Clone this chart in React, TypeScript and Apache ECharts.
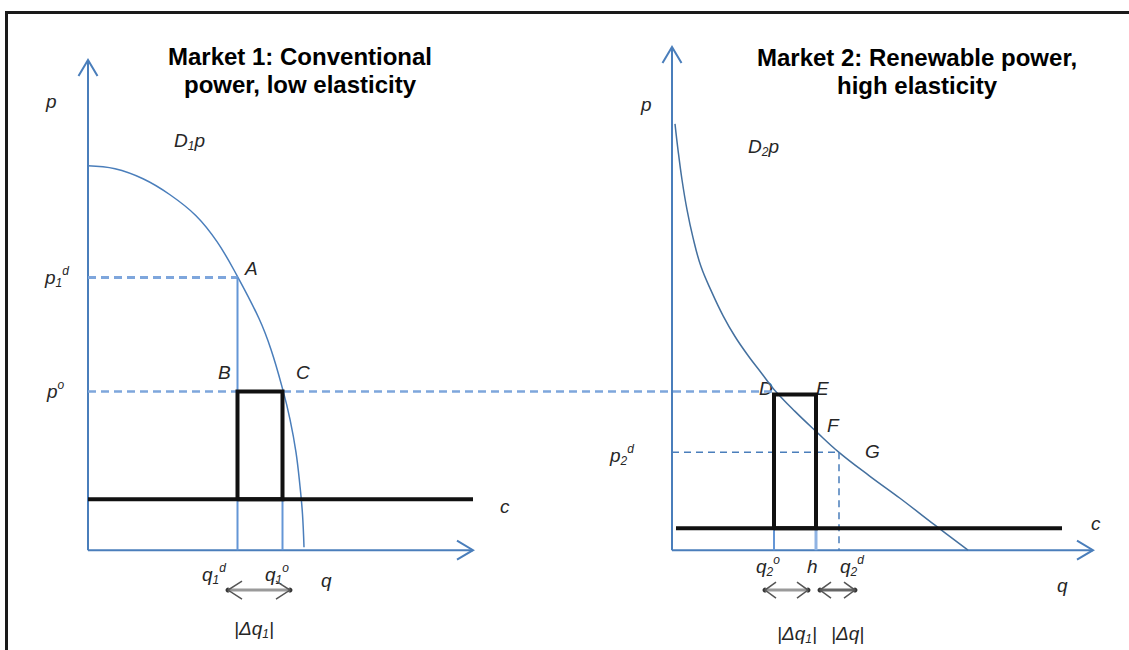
import React, { useEffect, useRef } from "react";
import * as echarts from "echarts";

// ---------- data (market units: q along the quantity axis, p along the price axis) ----------
// Market 1: conventional power, low elasticity
const m1Demand: number[][] = [
  [0, 385], [27, 382], [55, 372], [82, 356], [108, 335], [129, 309], [149, 275],
  [171, 232], [183, 201], [195, 160], [202, 131], [208, 98], [212, 64], [214.5, 36], [216, 3],
];
const m1P1d = 273;      // p1^d level (point A)
const m1Q1d = 149.5;    // q1^d
const m1Q1o = 194.5;    // q1^o
const pO = 159;         // common price p^o
const m1C = 51;         // marginal cost c
const m1QAxis = 385;    // length of the q axis
const m1PAxis = 491;    // length of the p axis
const m1PoEnd = 686;    // dashed p^o line runs on to point D in market 2
const m1DeltaArrow = [140, 202];

// Market 2: renewable power, high elasticity
const m2Demand: number[][] = [
  [3, 427], [6, 401], [10, 371], [15, 341], [21, 313], [29, 284], [40, 258], [51, 235],
  [63, 214], [76, 195], [89, 178], [102, 161], [123, 139], [144, 119], [167, 98],
  [198, 74], [228, 52], [263, 25], [296, 0],
];
const m2Q2o = 102;      // q2^o (point D)
const m2H = 144;        // h (point E / F)
const m2Q2d = 167;      // q2^d (point G)
const m2P2d = 98;       // p2^d
const m2RectTop = 156;
const m2C = 22;
const m2CRange = [4, 390];
const m2QAxis = 421;
const m2PAxis = 504;
const m2DeltaArrows = [[93, 136], [148, 183]];
const arrowLevel = -40;

// ---------- styles ----------
const BLUE = "#4a7ebb";
const LIGHT = "#7ea6dc";
const MIDB = "#6496d6";
const BLACK = "#111111";
const FAM = '"Liberation Sans", Arial, sans-serif';
const TXT = "#262626";

const seg = (
  data: number[][],
  g: number,
  color: string,
  width: number,
  type: any = "solid",
  extra: any = {}
) => ({
  type: "line",
  xAxisIndex: g,
  yAxisIndex: g,
  data,
  symbol: "none",
  showSymbol: false,
  clip: false,
  silent: true,
  lineStyle: { color, width, type, cap: "butt", join: "miter" },
  ...extra,
});

const rich = {
  m: { font: `italic 19px ${FAM}`, fontSize: 19, fontStyle: "italic", fontFamily: FAM, fill: TXT, color: TXT, lineHeight: 24 },
  b: { font: `italic 12px ${FAM}`, fontSize: 12, fontStyle: "italic", fontFamily: FAM, fill: TXT, color: TXT, lineHeight: 13, verticalAlign: "bottom" },
  t: { font: `italic 12px ${FAM}`, fontSize: 12, fontStyle: "italic", fontFamily: FAM, fill: TXT, color: TXT, lineHeight: 13, verticalAlign: "top" },
};

const label = (x: number, y: number, text: string) => ({
  type: "text",
  x,
  y,
  silent: true,
  style: {
    text,
    rich,
    fill: TXT,
    font: `italic 19px ${FAM}`,
    align: "left",
    textAlign: "left",
    verticalAlign: "middle",
    textVerticalAlign: "middle",
  },
});

const title = (x: number, y: number, text: string) => ({
  type: "text",
  x,
  y,
  silent: true,
  style: {
    text,
    fill: "#000",
    font: `bold 24px ${FAM}`,
    lineHeight: 28,
    align: "center",
    textAlign: "center",
    verticalAlign: "middle",
    textVerticalAlign: "middle",
  },
});

const hiddenAxis = (g: number, min: number, max: number) => ({
  type: "value",
  gridIndex: g,
  min,
  max,
  axisLine: { show: false },
  axisTick: { show: false },
  axisLabel: { show: false },
  splitLine: { show: false },
});

const doubleArrow = (g: number, a: number, b: number, back: number, half: number, shaft: string) => [
  seg([[a, arrowLevel], [b, arrowLevel]], g, shaft, 3),
  seg([[a + back, arrowLevel + half], [a, arrowLevel], [a + back, arrowLevel - half]], g, "#555", 1.5),
  seg([[b - back, arrowLevel + half], [b, arrowLevel], [b - back, arrowLevel - half]], g, "#555", 1.5),
  {
    type: "scatter",
    xAxisIndex: g,
    yAxisIndex: g,
    silent: true,
    symbolSize: 5,
    itemStyle: { color: "#000" },
    data: [[a, arrowLevel], [b, arrowLevel]],
  },
];

const axes = (g: number, qLen: number, pLen: number, back: number) => [
  seg([[0, 0], [0, pLen]], g, BLUE, 2),
  seg([[0, 0], [qLen, 0]], g, BLUE, 2),
  seg([[-9.5, pLen - back], [0, pLen], [9.5, pLen - back]], g, BLUE, 2),
  seg([[qLen - back, 9.5], [qLen, 0], [qLen - back, -9.5]], g, BLUE, 2),
];

// each grid spans one pixel per market unit; the origin sits at q=0, p=0
const option: any = {
  animation: false,
  backgroundColor: "#ffffff",
  grid: [
    { left: 28, top: 40, width: 760, height: 611 },
    { left: 612, top: 31, width: 500, height: 620 },
  ],
  xAxis: [hiddenAxis(0, -60, 700), hiddenAxis(1, -60, 440)],
  yAxis: [hiddenAxis(0, -100, 511), hiddenAxis(1, -100, 520)],
  series: [
    // ---- Market 1 ----
    ...axes(0, m1QAxis, m1PAxis, 16),
    seg(m1Demand, 0, BLUE, 1.5, "solid", { smooth: 0.4 }),
    seg([[0, m1P1d], [m1Q1d, m1P1d]], 0, LIGHT, 3, [8, 5]),
    seg([[0, pO], [m1PoEnd, pO]], 0, LIGHT, 2.5, [8, 5]),
    seg([[m1Q1d, m1P1d], [m1Q1d, 0]], 0, MIDB, 2),
    seg([[m1Q1o, pO], [m1Q1o, 0]], 0, MIDB, 2),
    seg([[0, m1C], [m1QAxis, m1C]], 0, BLACK, 4, "solid", { z: 5 }),
    seg([[m1Q1d, m1C], [m1Q1d, pO], [m1Q1o, pO], [m1Q1o, m1C], [m1Q1d, m1C]], 0, BLACK, 4, "solid", { z: 6 }),
    ...doubleArrow(0, m1DeltaArrow[0], m1DeltaArrow[1], 14, 9, "#9a9a9a"),
    // ---- Market 2 ----
    ...axes(1, m2QAxis, m2PAxis, 16),
    seg(m2Demand, 1, "#44709f", 1.5, "solid", { smooth: 0.4 }),
    seg([[0, m2P2d], [m2Q2d, m2P2d]], 1, BLUE, 1.5, [7, 5]),
    seg([[m2Q2d, m2P2d], [m2Q2d, 0]], 1, BLUE, 1.5, [7, 5]),
    seg([[m2Q2o, m2C], [m2Q2o, 0]], 1, MIDB, 2),
    seg([[m2H, m2C], [m2H, 0]], 1, "#8fb3e3", 3),
    seg([[m2CRange[0], m2C], [m2CRange[1], m2C]], 1, BLACK, 4, "solid", { z: 5 }),
    seg([[m2Q2o, m2C], [m2Q2o, m2RectTop], [m2H, m2RectTop], [m2H, m2C], [m2Q2o, m2C]], 1, BLACK, 4, "solid", { z: 6 }),
    ...doubleArrow(1, m2DeltaArrows[0][0], m2DeltaArrows[0][1], 11, 8, "#9a9a9a"),
    ...doubleArrow(1, m2DeltaArrows[1][0], m2DeltaArrows[1][1], 11, 8, "#666"),
  ],
  graphic: [
    {
      type: "polyline",
      silent: true,
      shape: { points: [[6.5, 650], [6.5, 12.5], [1129, 12.5]] },
      style: { stroke: "#1a1a1a", lineWidth: 3, fill: "none" },
    },
    title(300, 70, "Market 1: Conventional\npower, low elasticity"),
    title(917, 71, "Market 2: Renewable power,\nhigh elasticity"),
    // Market 1 labels
    label(46, 101, "{m|p}"),
    label(174, 140, "{m|D}{b|1}{m|p}"),
    label(45, 277, "{m|p}{b|1}{t|d}"),
    label(47, 391, "{m|p}{t|o}"),
    label(245, 268, "{m|A}"),
    label(218, 372, "{m|B}"),
    label(296, 372, "{m|C}"),
    label(500, 506, "{m|c}"),
    label(202, 574, "{m|q}{b|1}{t|d}"),
    label(265, 574, "{m|q}{b|1}{t|o}"),
    label(321, 580, "{m|q}"),
    label(234, 628, "{m||Δq}{b|1}{m||}"),
    // Market 2 labels
    label(641, 104, "{m|p}"),
    label(748, 146, "{m|D}{b|2}{m|p}"),
    label(610, 455, "{m|p}{b|2}{t|d}"),
    label(759, 388, "{m|D}"),
    label(816, 388, "{m|E}"),
    label(827, 425, "{m|F}"),
    label(865, 451, "{m|G}"),
    label(1091, 523, "{m|c}"),
    label(756, 566, "{m|q}{b|2}{t|o}"),
    label(807, 566, "{m|h}"),
    label(840, 566, "{m|q}{b|2}{t|d}"),
    label(1057, 585, "{m|q}"),
    label(777, 633, "{m||Δq}{b|1}{m||}"),
    label(831, 633, "{m||Δq|}"),
  ],
};

export default function App() {
  const ref = useRef<HTMLDivElement>(null);
  useEffect(() => {
    if (!ref.current) return;
    const chart = echarts.init(ref.current, null, { renderer: "svg" });
    chart.setOption(option);
    return () => chart.dispose();
  }, []);
  return (
    <div
      ref={ref}
      style={{ position: "absolute", left: 0, top: 0, width: 1129, height: 650, background: "#fff" }}
    />
  );
}
